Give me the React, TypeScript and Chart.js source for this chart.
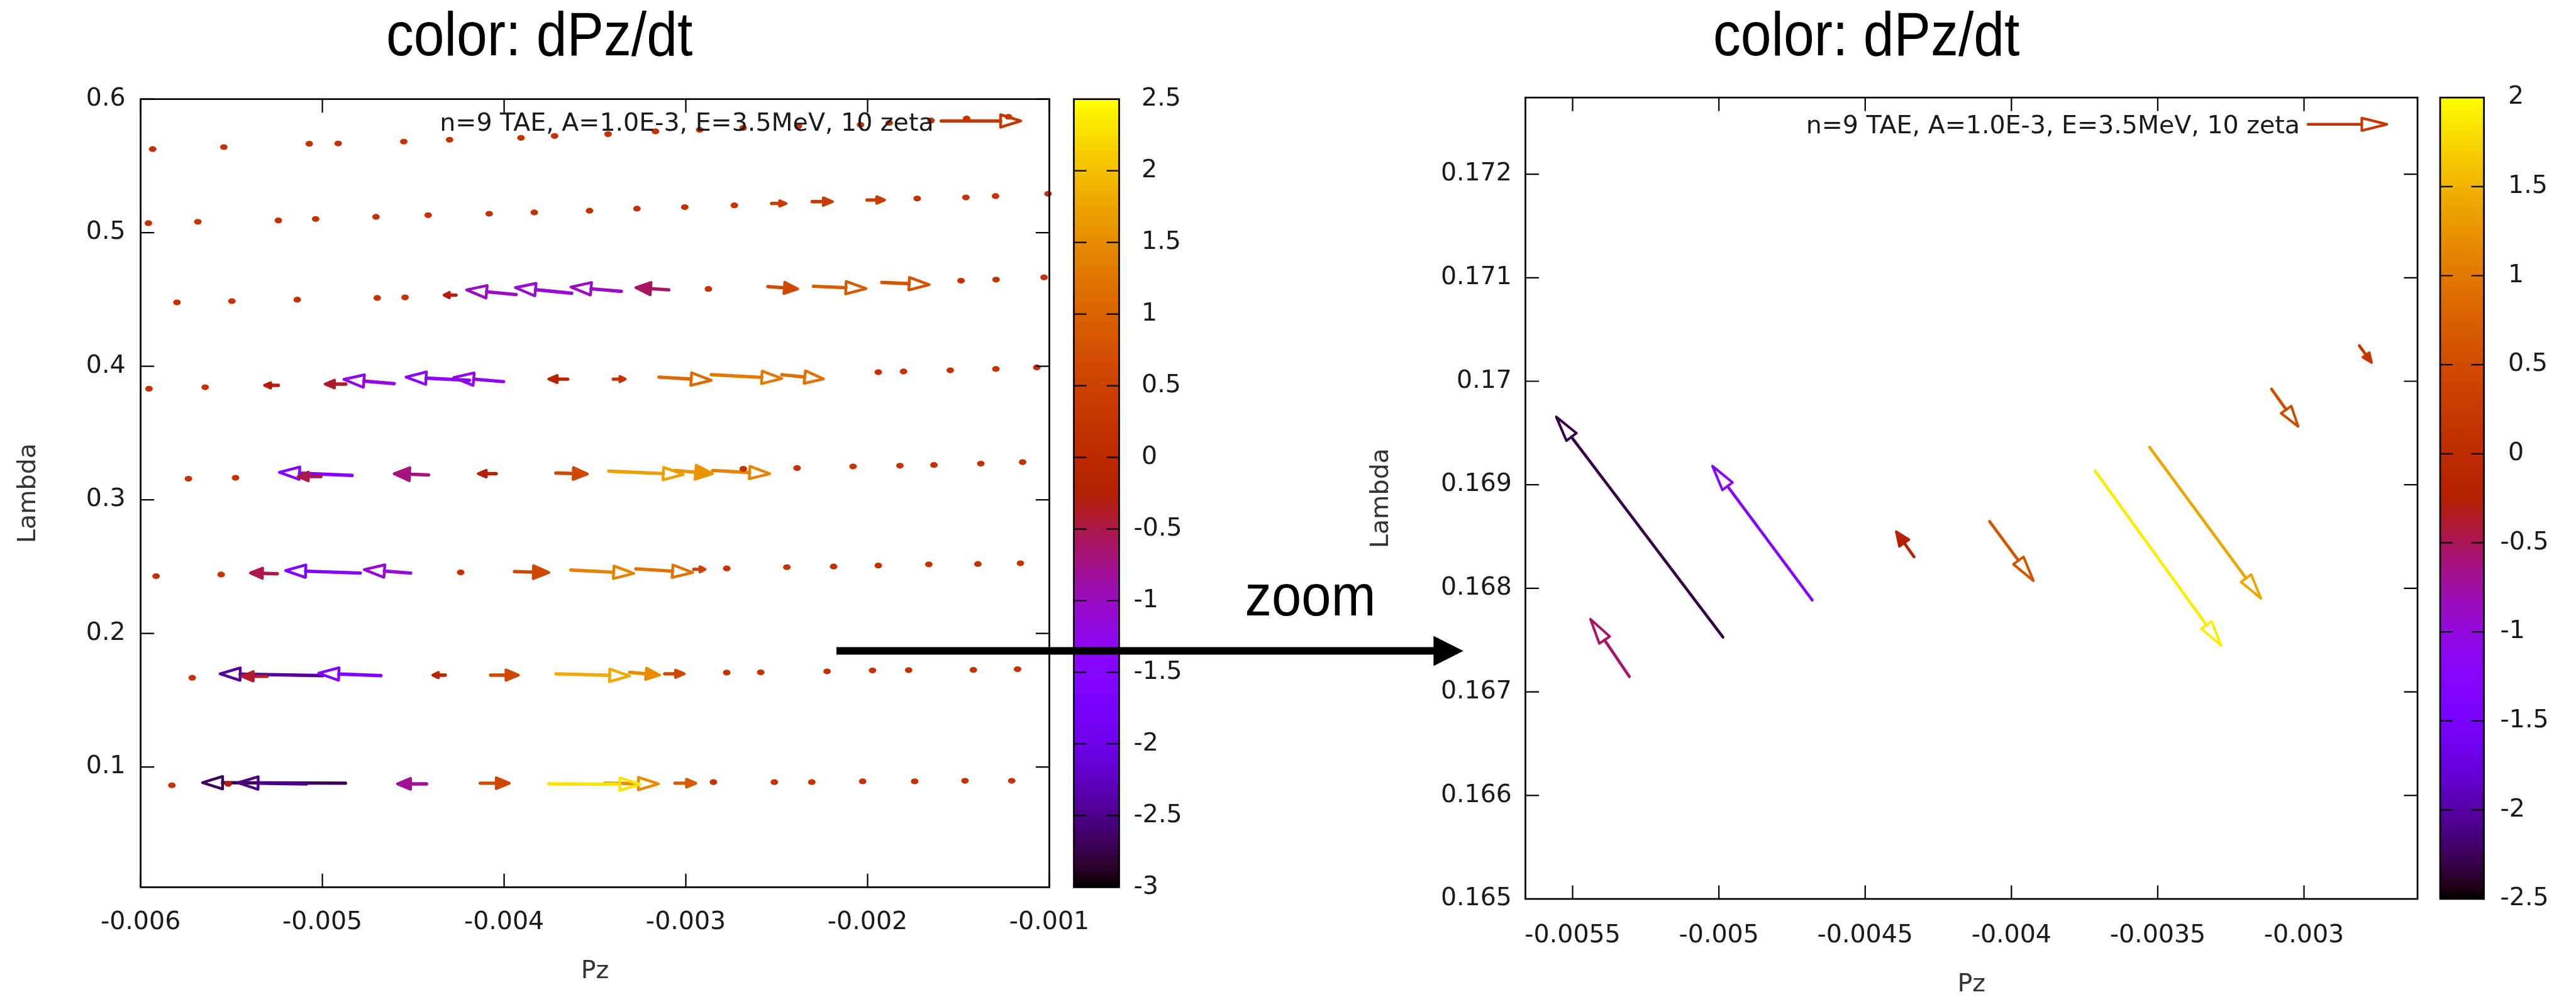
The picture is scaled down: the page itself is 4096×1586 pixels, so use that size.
import React, { useEffect, useRef } from "react";
import { Chart, registerables } from "chart.js";

Chart.register(...registerables);

// ---------------- text ----------------
const titleText = "color: dPz/dt";
const legendText = "n=9 TAE, A=1.0E-3, E=3.5MeV, 10 zeta";
const noteText = "zoom";

// ---------------- tick values ----------------
const leftXTicks = [-0.006, -0.005, -0.004, -0.003, -0.002, -0.001];
const leftYTicks = [0.1, 0.2, 0.3, 0.4, 0.5, 0.6];
const leftCbTicks = [-3, -2.5, -2, -1.5, -1, -0.5, 0, 0.5, 1, 1.5, 2, 2.5];
const rightXTicks = [-0.0055, -0.005, -0.0045, -0.004, -0.0035, -0.003];
const rightYTicks = [0.165, 0.166, 0.167, 0.168, 0.169, 0.17, 0.171, 0.172];
const rightCbTicks = [-2.5, -2, -1.5, -1, -0.5, 0, 0.5, 1, 1.5, 2];

// ---------------- left panel: vectors (tail Pz, tail Lambda, dPz, dLambda, colour dPz/dt) ----------------
const D = 0.00002; // tiny vectors that show as dots
const leftPz = [
  // row ~0.57
  -0.005944, -0.005552, -0.005082, -0.004923, -0.004562, -0.00431, -0.003917, -0.003732, -0.003438, -0.003177, -0.002934, -0.002695, -0.002391, -0.002049, -0.001891, -0.001661, -0.001465, -0.001235,
  // row ~0.51
  -0.005967, -0.005695, -0.005252, -0.005047, -0.004715, -0.004428, -0.004092, -0.003844, -0.00354, -0.003279, -0.003016, -0.002743, -0.002528, -0.002305, -0.002003, -0.001737, -0.001469, -0.001306, -0.001017,
  // row ~0.45
  -0.00581, -0.005508, -0.005148, -0.004708, -0.004555, -0.004265, -0.003934, -0.003628, -0.003355, -0.003094, -0.002886, -0.002548, -0.002298, -0.001922, -0.001496, -0.001303, -0.001039,
  // row ~0.39
  -0.005964, -0.005655, -0.005242, -0.004871, -0.004605, -0.004191, -0.004003, -0.00365, -0.003399, -0.003148, -0.00286, -0.002472, -0.001951, -0.001812, -0.001555, -0.001304, -0.001079,
  // row ~0.32
  -0.005747, -0.005488, -0.004837, -0.005008, -0.004416, -0.004044, -0.003715, -0.003424, -0.00306, -0.002853, -0.002694, -0.002398, -0.00209, -0.001832, -0.001645, -0.001387, -0.001157,
  // row ~0.245
  -0.005925, -0.005567, -0.004792, -0.005248, -0.004514, -0.004249, -0.003943, -0.003633, -0.003275, -0.002956, -0.002785, -0.002454, -0.002197, -0.001951, -0.001673, -0.001403, -0.001169,
  // row ~0.17
  -0.005726, -0.004997, -0.004678, -0.005305, -0.004324, -0.004074, -0.003715, -0.003309, -0.003116, -0.002785, -0.002598, -0.002233, -0.001983, -0.001784, -0.001428, -0.001185,
  // row ~0.088
  -0.005838, -0.004873, -0.005088, -0.005495, -0.004427, -0.004131, -0.003446, -0.003754, -0.00306, -0.002858, -0.002523, -0.002317, -0.002037, -0.001751, -0.001474, -0.001217,
];
const leftLambda = [
  0.5626, 0.5641, 0.5666, 0.5668, 0.5682, 0.5696, 0.571, 0.5724, 0.5738, 0.5759, 0.577, 0.5784, 0.5798, 0.5808, 0.5822, 0.584, 0.5854, 0.5868,
  0.5072, 0.5082, 0.5092, 0.5103, 0.5119, 0.5131, 0.5142, 0.5152, 0.5165, 0.518, 0.5191, 0.5205, 0.5219, 0.5233, 0.5245, 0.5256, 0.5264, 0.5274, 0.5291,
  0.4478, 0.4488, 0.4499, 0.4512, 0.4516, 0.4533, 0.4537, 0.4547, 0.4561, 0.4572, 0.4579, 0.4597, 0.4599, 0.4628, 0.4641, 0.4649, 0.4666,
  0.3832, 0.3843, 0.3857, 0.3867, 0.387, 0.3895, 0.3885, 0.3904, 0.3904, 0.3919, 0.3937, 0.3937, 0.3956, 0.3961, 0.397, 0.398, 0.3992,
  0.3158, 0.3165, 0.3183, 0.3175, 0.3187, 0.3196, 0.3201, 0.3215, 0.322, 0.322, 0.3232, 0.3238, 0.325, 0.3256, 0.3261, 0.3271, 0.3283,
  0.2429, 0.2441, 0.2452, 0.2447, 0.2452, 0.2457, 0.2463, 0.2475, 0.2484, 0.248, 0.2487, 0.2496, 0.2501, 0.2508, 0.2517, 0.252, 0.2525,
  0.1668, 0.1684, 0.1684, 0.1679, 0.1688, 0.1688, 0.1698, 0.1709, 0.1698, 0.1707, 0.1709, 0.1716, 0.1723, 0.1725, 0.1727, 0.1732,
  0.0863, 0.0879, 0.0874, 0.0874, 0.0874, 0.0879, 0.0879, 0.0874, 0.0879, 0.0887, 0.0887, 0.0887, 0.0893, 0.0893, 0.0897, 0.0897,
];
const leftDPz = [
  D, D, D, D, D, D, D, D, D, D, D, D, D, D, D, D, D, D,
  D, D, D, D, D, D, D, D, D, D, D, D, 0.0000796, 0.0001116, 0.0000964, D, D, D, D,
  D, D, D, D, D, -0.0000656, -0.0002724, -0.0003097, -0.0002771, -0.000181, D, 0.0001636, 0.0002892, 0.0002612, D, D, D,
  D, D, -0.0000765, -0.0001135, -0.0002767, -0.0003489, -0.0002749, -0.0001048, 0.0000653, 0.0002879, 0.0003884, 0.0002295, D, D, D, D, D,
  D, D, -0.0003993, -0.0001256, -0.0001891, -0.0000983, 0.0001735, 0.0004105, 0.0002068, 0.0003144, D, D, D, D, D, D, D,
  D, D, -0.0004105, -0.000148, -0.0002553, D, 0.0001891, 0.0003464, 0.0003122, 0.0000616, D, D, D, D, D, D, D,
  D, -0.0005659, -0.000342, -0.0001368, -0.0000684, 0.000153, 0.0004061, 0.0001639, 0.0001076, D, D, D, D, D, D, D,
  D, -0.0007867, -0.0003762, -0.0000466, -0.0001598, 0.0001595, 0.0002954, 0.0005016, 0.000115, D, D, D, D, D, D, D,
];
const leftDLambda = [
  0, 0, 0, 0, 0, 0, 0, 0, 0, 0, 0, 0, 0, 0, 0, 0, 0, 0,
  0, 0, 0, 0, 0, 0, 0, 0, 0, 0, 0, 0, 0, 0, 0, 0, 0, 0, 0,
  0, 0, 0, 0, 0, 0, 0.0035, 0.0042, 0.0032, 0.0017, 0, -0.0018, -0.0017, -0.0017, 0, 0, 0,
  0, 0, 0, 0, 0.0032, 0.0024, 0.0031, 0, 0, -0.0024, -0.0028, -0.0032, 0, 0, 0, 0, 0,
  0, 0, 0.0023, 0, 0.0009, 0, -0.0007, -0.0025, -0.0024, -0.0024, 0, 0, 0, 0, 0, 0, 0,
  0, 0, 0.0019, 0.0006, 0.0026, 0, -0.0007, -0.0025, -0.0028, 0, 0, 0, 0, 0, 0, 0, 0,
  0, 0.0014, 0.0018, 0, 0, 0, -0.0016, -0.0021, 0, 0, 0, 0, 0, 0, 0, 0,
  0, 0.0004, 0.0008, 0, 0, 0, -0.0005, -0.0003, 0, 0, 0, 0, 0, 0, 0, 0,
];
const leftRate = [
  0.2, 0.2, 0.2, 0.2, 0.2, 0.2, 0.2, 0.2, 0.2, 0.2, 0.2, 0.2, 0.2, 0.2, 0.2, 0.2, 0.2, 0.2,
  0.2, 0.2, 0.2, 0.2, 0.2, 0.2, 0.2, 0.2, 0.2, 0.2, 0.2, 0.2, 0.4, 0.4, 0.4, 0.2, 0.2, 0.2, 0.2,
  0.2, 0.2, 0.2, 0.2, 0.2, -0.3, -1.0, -1.1, -1.0, -0.6, 0.2, 0.6, 0.9, 0.8, 0.2, 0.2, 0.2,
  0.2, 0.2, -0.3, -0.4, -1.2, -1.4, -1.3, -0.2, 0.2, 1.1, 1.3, 1.2, 0.2, 0.2, 0.2, 0.2, 0.2,
  0.2, 0.2, -1.5, -0.5, -0.7, -0.2, 0.6, 1.7, 1.6, 1.4, 0.2, 0.2, 0.2, 0.2, 0.2, 0.2, 0.2,
  0.2, 0.2, -1.6, -0.5, -1.1, 0.2, 0.6, 1.4, 1.2, 0.5, 0.2, 0.2, 0.2, 0.2, 0.2, 0.2, 0.2,
  0.2, -2.4, -1.6, -0.4, -0.1, 0.6, 1.8, 1.5, 0.6, 0.2, 0.2, 0.2, 0.2, 0.2, 0.2, 0.2,
  0.2, -2.7, -2.5, -0.3, -0.8, 0.6, 1.5, 2.3, 0.9, 0.2, 0.2, 0.2, 0.2, 0.2, 0.2, 0.2,
];

// ---------------- right panel (zoom) ----------------
const rightPz = [-0.004986, -0.004681, -0.005306, -0.004333, -0.004075, -0.003714, -0.003528, -0.003111, -0.002811];
const rightLambda = [0.167528, 0.167886, 0.167147, 0.168304, 0.168647, 0.169134, 0.169363, 0.169925, 0.170344];
const rightDPz = [-0.00057, -0.000341, -0.000133, -0.000061, 0.00015, 0.000431, 0.000381, 0.000091, 0.000042];
const rightDLambda = [0.002128, 0.001295, 0.000555, 0.000244, -0.000574, -0.001686, -0.001461, -0.000362, -0.000163];
const rightRate = [-2.3, -1.3, -0.55, -0.2, 0.6, 1.9, 1.4, 0.5, 0.2];

// ---------------- helpers ----------------
function gnuplotPalette(t: number): string {
  const u = Math.min(1, Math.max(0, t));
  const r = Math.sqrt(u);
  const g = u * u * u;
  const b = Math.max(0, Math.sin(2 * Math.PI * u));
  return `rgb(${Math.round(255 * r)},${Math.round(255 * g)},${Math.round(255 * b)})`;
}

function buildVectors(pz: number[], lam: number[], dpz: number[], dlam: number[], rate: number[]) {
  return pz.map((x, i) => ({ x, y: lam[i], dx: dpz[i], dy: dlam[i], c: rate[i] }));
}

const fmtPlain = (v: number) => String(Number(Number(v).toPrecision(6)));
const fmtSigned = (v: number) => {
  const n = Number(Number(v).toPrecision(6));
  return n < 0 ? String(n) : " " + String(n);
};

function drawArrow(ctx: any, x0: number, y0: number, x1: number, y1: number, color: string, st: any) {
  const dx = x1 - x0;
  const dy = y1 - y0;
  const L = Math.hypot(dx, dy);
  ctx.fillStyle = color;
  ctx.strokeStyle = color;
  if (L < st.dotBelow) {
    ctx.beginPath();
    ctx.ellipse((x0 + x1) / 2, (y0 + y1) / 2, st.dotRx, st.dotRy, 0, 0, Math.PI * 2);
    ctx.fill();
    return;
  }
  const ux = dx / L;
  const uy = dy / L;
  const small = L < st.smallBelow;
  const h = Math.min(st.headLen, L * 0.45);
  const w = small ? Math.max(h * 0.42, st.lineWidth * 0.8) : st.headHalf;
  const bx = x1 - ux * h;
  const by = y1 - uy * h;
  ctx.lineWidth = st.lineWidth;
  ctx.lineCap = "round";
  ctx.lineJoin = "round";
  ctx.beginPath();
  ctx.moveTo(x0, y0);
  ctx.lineTo(bx, by);
  ctx.stroke();
  ctx.beginPath();
  ctx.moveTo(x1, y1);
  ctx.lineTo(bx - uy * w, by + ux * w);
  ctx.lineTo(bx + uy * w, by - ux * w);
  ctx.closePath();
  if (small) ctx.fill();
  ctx.lineWidth = st.headLineWidth;
  ctx.stroke();
}

const vectorPlugin = {
  id: "vectorField",
  afterDatasetsDraw(chart: any) {
    const st = chart.options.plugins.vectorField;
    const { ctx, chartArea: a, scales } = chart;
    const xs = scales.x;
    const ys = scales.y;
    const cb = scales.cb;
    ctx.save();
    ctx.beginPath();
    ctx.rect(a.left - 8, a.top - 8, a.right - a.left + 16, a.bottom - a.top + 16);
    ctx.clip();
    for (const ds of chart.data.datasets) {
      for (const p of ds.data) {
        const x0 = xs.getPixelForValue(p.x);
        const y0 = ys.getPixelForValue(p.y);
        const x1 = xs.getPixelForValue(p.x + p.dx);
        const y1 = ys.getPixelForValue(p.y + p.dy);
        drawArrow(ctx, x0, y0, x1, y1, gnuplotPalette((p.c - cb.min) / (cb.max - cb.min)), st);
      }
    }
    ctx.restore();
  },
};

const decorPlugin = {
  id: "decor",
  afterDraw(chart: any) {
    const o = chart.options.plugins.decor;
    const st = chart.options.plugins.vectorField;
    const { ctx, chartArea: a, scales } = chart;
    const xs = scales.x;
    const ys = scales.y;
    const cb = scales.cb;
    ctx.save();
    // inward ticks on all four sides
    ctx.strokeStyle = "#000";
    ctx.lineWidth = o.tickWidth;
    ctx.lineCap = "butt";
    ctx.beginPath();
    for (const t of xs.ticks) {
      const px = xs.getPixelForValue(t.value);
      ctx.moveTo(px, a.bottom);
      ctx.lineTo(px, a.bottom - o.tickLen);
      ctx.moveTo(px, a.top);
      ctx.lineTo(px, a.top + o.tickLen);
    }
    for (const t of ys.ticks) {
      const py = ys.getPixelForValue(t.value);
      ctx.moveTo(a.left, py);
      ctx.lineTo(a.left + o.tickLen, py);
      ctx.moveTo(a.right, py);
      ctx.lineTo(a.right - o.tickLen, py);
    }
    ctx.stroke();
    ctx.lineWidth = o.frameWidth;
    ctx.strokeRect(a.left, a.top, a.right - a.left, a.bottom - a.top);

    // colour bar
    const cx0 = a.right + o.cbGap;
    const cx1 = cx0 + o.cbWidth;
    const g = ctx.createLinearGradient(0, a.bottom, 0, a.top);
    for (let i = 0; i <= 64; i++) g.addColorStop(i / 64, gnuplotPalette(i / 64));
    ctx.fillStyle = g;
    ctx.fillRect(cx0, a.top, cx1 - cx0, a.bottom - a.top);
    ctx.strokeStyle = "#000";
    ctx.lineWidth = o.tickWidth;
    ctx.beginPath();
    for (const t of cb.ticks) {
      if (t.value <= cb.min || t.value >= cb.max) continue;
      const py = cb.getPixelForValue(t.value);
      ctx.moveTo(cx0, py);
      ctx.lineTo(cx0 + o.cbTickLen, py);
      ctx.moveTo(cx1, py);
      ctx.lineTo(cx1 - o.cbTickLen, py);
    }
    ctx.stroke();
    ctx.lineWidth = o.frameWidth;
    ctx.strokeRect(cx0, a.top, cx1 - cx0, a.bottom - a.top);

    // key
    const K = o.legend;
    ctx.font = `${K.size}px 'DejaVu Sans', sans-serif`;
    ctx.fillStyle = "#1a1a1a";
    ctx.textAlign = "right";
    ctx.textBaseline = "alphabetic";
    ctx.fillText(K.text, K.textRight, K.baseline);
    drawArrow(ctx, K.x0, K.y, K.x1, K.y, gnuplotPalette((K.c - cb.min) / (cb.max - cb.min)), st);

    // title
    const T = o.title;
    ctx.fillStyle = "#000";
    ctx.font = `${T.size}px 'Liberation Sans', Arial, sans-serif`;
    ctx.textAlign = "center";
    ctx.save();
    ctx.translate(T.x, T.baseline);
    ctx.scale(1, T.vscale);
    ctx.fillText(T.text, 0, 0);
    ctx.restore();

    // zoom annotation
    const N = o.note;
    if (N) {
      ctx.fillStyle = "#000";
      ctx.font = `${N.size}px 'Liberation Sans', Arial, sans-serif`;
      ctx.textAlign = "left";
      ctx.save();
      ctx.translate(N.x, N.baseline);
      ctx.scale(1, N.vscale);
      ctx.fillText(N.text, 0, 0);
      ctx.restore();
      ctx.fillRect(N.lineX0, N.lineY - N.thick / 2, N.headBase - N.lineX0 + 1, N.thick);
      ctx.beginPath();
      ctx.moveTo(N.headBase, N.lineY - N.headHalf);
      ctx.lineTo(N.headTip, N.lineY);
      ctx.lineTo(N.headBase, N.lineY + N.headHalf);
      ctx.closePath();
      ctx.fill();
    }
    ctx.restore();
  },
};

const tickFont = { family: "'DejaVu Sans', sans-serif", size: 39.5, lineHeight: 1.2 };
const axisTitleFont = { family: "'DejaVu Sans', sans-serif", size: 39.5, lineHeight: 1 };
const tickColor = "#1a1a1a";
const axisTitleColor = "#333333";

function makeConfig(p: any) {
  return {
    type: "scatter",
    data: {
      datasets: [{ data: p.vectors, pointRadius: 0, pointHoverRadius: 0, showLine: false }],
    },
    options: {
      responsive: false,
      maintainAspectRatio: false,
      animation: false,
      devicePixelRatio: 1,
      events: [],
      layout: { padding: p.padding },
      plugins: {
        legend: { display: false },
        tooltip: { enabled: false },
        title: { display: false },
        vectorField: p.arrowStyle,
        decor: p.decor,
      },
      scales: {
        x: {
          type: "linear",
          position: "bottom",
          min: p.xMin,
          max: p.xMax,
          afterBuildTicks: (s: any) => {
            s.ticks = p.xTicks.map((value: number) => ({ value }));
          },
          afterFit: (s: any) => {
            s.height = p.xAxisHeight;
          },
          grid: { display: false, drawTicks: false },
          border: { display: false },
          ticks: {
            autoSkip: false,
            maxRotation: 0,
            minRotation: 0,
            padding: p.xTickPad,
            font: tickFont,
            color: tickColor,
            callback: (v: any) => fmtPlain(v),
          },
          title: {
            display: true,
            text: "Pz",
            color: axisTitleColor,
            font: axisTitleFont,
            padding: { top: 0, bottom: p.xTitlePad },
          },
        },
        y: {
          type: "linear",
          position: "left",
          min: p.yMin,
          max: p.yMax,
          afterBuildTicks: (s: any) => {
            s.ticks = p.yTicks.map((value: number) => ({ value }));
          },
          afterFit: (s: any) => {
            s.width = p.yAxisWidth;
          },
          grid: { display: false, drawTicks: false },
          border: { display: false },
          ticks: {
            autoSkip: false,
            padding: p.yTickPad,
            font: tickFont,
            color: tickColor,
            callback: (v: any) => fmtPlain(v),
          },
          title: {
            display: true,
            text: "Lambda",
            color: axisTitleColor,
            font: axisTitleFont,
            padding: { top: p.yTitlePad, bottom: 0 },
          },
        },
        cb: {
          type: "linear",
          axis: "y",
          position: "right",
          min: p.cbMin,
          max: p.cbMax,
          afterBuildTicks: (s: any) => {
            s.ticks = p.cbTicks.map((value: number) => ({ value }));
          },
          afterFit: (s: any) => {
            s.width = p.cbAxisWidth;
          },
          grid: { display: false, drawTicks: false },
          border: { display: false },
          ticks: {
            autoSkip: false,
            padding: p.cbTickPad,
            font: tickFont,
            color: tickColor,
            callback: (v: any) => fmtSigned(v),
          },
        },
      },
    },
    plugins: [vectorPlugin, decorPlugin],
  };
}

const H = 1586;

const leftSpec = {
  vectors: buildVectors(leftPz, leftLambda, leftDPz, leftDLambda, leftRate),
  xMin: -0.006,
  xMax: -0.001,
  yMin: 0.01,
  yMax: 0.6,
  cbMin: -3,
  cbMax: 2.5,
  xTicks: leftXTicks,
  yTicks: leftYTicks,
  cbTicks: leftCbTicks,
  padding: { left: 0, top: 146.1, right: 431.5, bottom: 0 },
  yAxisWidth: 223.6,
  xAxisHeight: 174.6,
  cbAxisWidth: 300,
  xTickPad: 33.1,
  yTickPad: 24,
  cbTickPad: 134,
  xTitlePad: 20.25,
  yTitlePad: 26.2,
  arrowStyle: {
    lineWidth: 5.4,
    headLineWidth: 4.4,
    headLen: 32,
    headHalf: 10,
    dotBelow: 14,
    dotRx: 6,
    dotRy: 4.6,
    smallBelow: 60,
  },
  decor: {
    tickLen: 21.6,
    tickWidth: 2.2,
    frameWidth: 2.7,
    cbGap: 39,
    cbWidth: 72,
    cbTickLen: 20,
    legend: { text: legendText, size: 39.5, textRight: 1484.6, baseline: 208.1, x0: 1496.7, x1: 1623, y: 192.4, c: 0.3 },
    title: { text: titleText, size: 87.7, vscale: 1.12, x: 857.6, baseline: 88.4 },
    note: {
      text: noteText,
      size: 85,
      vscale: 1.1,
      x: 1979.6,
      baseline: 979.3,
      lineX0: 1330,
      lineY: 1035.4,
      thick: 12,
      headBase: 2279.4,
      headTip: 2326.8,
      headHalf: 24,
    },
  },
};

const rightSpec = {
  vectors: buildVectors(rightPz, rightLambda, rightDPz, rightDLambda, rightRate),
  xMin: -0.0056614,
  xMax: -0.002612,
  yMin: 0.165,
  yMax: 0.17274,
  cbMin: -2.5,
  cbMax: 2,
  xTicks: rightXTicks,
  yTicks: rightYTicks,
  cbTicks: rightCbTicks,
  padding: { left: 0, top: 151.1, right: 32, bottom: 0 },
  yAxisWidth: 325.5,
  xAxisHeight: 156,
  cbAxisWidth: 220,
  xTickPad: 34.9,
  yTickPad: 21.5,
  cbTickPad: 131.5,
  xTitlePad: 0,
  yTitlePad: 77.1,
  arrowStyle: {
    lineWidth: 4.6,
    headLineWidth: 4,
    headLen: 40,
    headHalf: 10,
    dotBelow: 6,
    dotRx: 5,
    dotRy: 4,
    smallBelow: 50,
  },
  decor: {
    tickLen: 21.6,
    tickWidth: 2.2,
    frameWidth: 2.7,
    cbGap: 36,
    cbWidth: 69.6,
    cbTickLen: 20,
    legend: { text: legendText, size: 39.5, textRight: 1557, baseline: 212.1, x0: 1570, x1: 1695.4, y: 197.8, c: 0.2 },
    title: { text: titleText, size: 87.7, vscale: 1.12, x: 867.7, baseline: 88.4 },
    note: null,
  },
};

function Panel({ left, width, spec }: { left: number; width: number; spec: any }) {
  const ref = useRef<HTMLCanvasElement | null>(null);
  useEffect(() => {
    const canvas = ref.current;
    if (!canvas) return;
    const chart = new Chart(canvas, makeConfig(spec) as any);
    return () => chart.destroy();
  }, [spec]);
  return (
    <canvas
      ref={ref}
      width={width}
      height={H}
      style={{ position: "absolute", left, top: 0, width, height: H, display: "block" }}
    />
  );
}

export default function App() {
  return (
    <div
      style={{
        position: "fixed",
        left: 0,
        top: 0,
        width: 4096,
        height: H,
        background: "#ffffff",
        overflow: "hidden",
      }}
    >
      <Panel left={0} width={2400} spec={leftSpec} />
      <Panel left={2100} width={1996} spec={rightSpec} />
    </div>
  );
}
